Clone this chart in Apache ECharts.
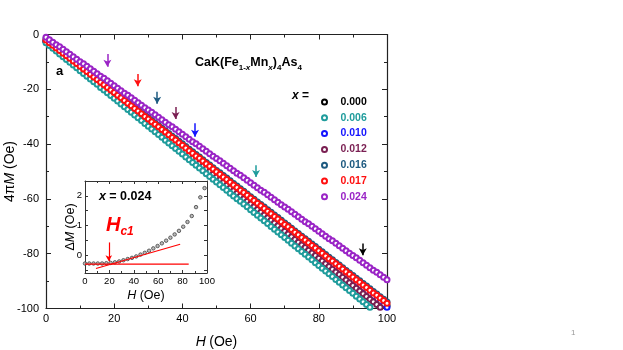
<!DOCTYPE html>
<html lang="en">
<head>
<meta charset="UTF-8">
<title>CaK(Fe1-xMnx)4As4 - 4πM vs H</title>
<style>html,body{margin:0;padding:0;background:#fff;}</style>
</head>
<body>
<div id="main" style="width:623px;height:350px;"></div>
<script src="https://cdn.jsdelivr.net/npm/echarts@6/dist/echarts.min.js"></script>
<script>
// applied field H (Oe), one point per Oe
var H = [0,1,2,3,4,5,6,7,8,9,10,11,12,13,14,15,16,17,18,19,20,21,22,23,24,25,26,27,28,29,30,31,32,33,34,35,36,37,38,39,40,41,42,43,44,45,46,47,48,49,50,51,52,53,54,55,56,57,58,59,60,61,62,63,64,65,66,67,68,69,70,71,72,73,74,75,76,77,78,79,80,81,82,83,84,85,86,87,88,89,90,91,92,93,94,95,96,97,98,99,100];

// 4piM (Oe)
var m000 = [-2.5,-3.5,-4.4,-5.4,-6.4,-7.3,-8.3,-9.3,-10.2,-11.2,-12.2,-13.1,-14.1,-15.0,-16.0,-17.0,-17.9,-18.9,-19.9,-20.8,-21.8,-22.8,-23.7,-24.7,-25.7,-26.6,-27.6,-28.6,-29.5,-30.5,-31.5,-32.4,-33.4,-34.3,-35.3,-36.3,-37.2,-38.2,-39.2,-40.1,-41.1,-42.1,-43.0,-44.0,-45.0,-45.9,-46.9,-47.9,-48.8,-49.8,-50.8,-51.7,-52.7,-53.6,-54.6,-55.6,-56.5,-57.5,-58.5,-59.4,-60.4,-61.4,-62.3,-63.3,-64.3,-65.2,-66.2,-67.2,-68.1,-69.1,-70.1,-71.0,-72.0,-72.9,-73.9,-74.9,-75.8,-76.8,-77.8,-78.7,-79.7,-80.7,-81.6,-82.6,-83.6,-84.5,-85.5,-86.5,-87.4,-88.4,-89.4,-90.3,-91.3,-92.2,-93.2,-94.2,-95.1,-96.1,-97.1,-98.0,-99.0];
var m006 = [-3.0,-4.0,-5.0,-6.0,-7.1,-8.1,-9.1,-10.1,-11.1,-12.1,-13.2,-14.2,-15.2,-16.2,-17.2,-18.2,-19.3,-20.3,-21.3,-22.3,-23.3,-24.3,-25.4,-26.4,-27.4,-28.4,-29.4,-30.4,-31.4,-32.5,-33.5,-34.5,-35.5,-36.5,-37.5,-38.6,-39.6,-40.6,-41.6,-42.6,-43.6,-44.7,-45.7,-46.7,-47.7,-48.7,-49.7,-50.8,-51.8,-52.8,-53.8,-54.8,-55.8,-56.8,-57.9,-58.9,-59.9,-60.9,-61.9,-62.9,-64.0,-65.0,-66.0,-67.0,-68.0,-69.0,-70.1,-71.1,-72.1,-73.1,-74.1,-75.1,-76.2,-77.2,-78.2,-79.2,-80.2,-81.2,-82.2,-83.3,-84.3,-85.3,-86.3,-87.3,-88.3,-89.4,-90.4,-91.4,-92.4,-93.4,-94.4,-95.5,-96.5,-97.5,-98.5,-99.5,-100.5,-101.6];
var m010 = [-2.5,-3.5,-4.4,-5.4,-6.4,-7.4,-8.3,-9.3,-10.3,-11.2,-12.2,-13.2,-14.1,-15.1,-16.1,-17.1,-18.0,-19.0,-20.0,-20.9,-21.9,-22.9,-23.8,-24.8,-25.8,-26.8,-27.7,-28.7,-29.7,-30.6,-31.6,-32.6,-33.5,-34.5,-35.5,-36.5,-37.4,-38.4,-39.4,-40.3,-41.3,-42.3,-43.2,-44.2,-45.2,-46.2,-47.1,-48.1,-49.1,-50.0,-51.0,-52.0,-52.9,-53.9,-54.9,-55.9,-56.8,-57.8,-58.8,-59.7,-60.7,-61.7,-62.6,-63.6,-64.6,-65.6,-66.5,-67.5,-68.5,-69.4,-70.4,-71.4,-72.3,-73.3,-74.3,-75.3,-76.2,-77.2,-78.2,-79.1,-80.1,-81.1,-82.0,-83.0,-84.0,-85.0,-85.9,-86.9,-87.9,-88.8,-89.8,-90.8,-91.7,-92.7,-93.7,-94.7,-95.6,-96.6,-97.6,-98.5,-99.5];
var m012 = [-2.5,-3.5,-4.5,-5.5,-6.5,-7.5,-8.4,-9.4,-10.4,-11.4,-12.4,-13.4,-14.4,-15.4,-16.4,-17.4,-18.3,-19.3,-20.3,-21.3,-22.3,-23.3,-24.3,-25.3,-26.3,-27.3,-28.2,-29.2,-30.2,-31.2,-32.2,-33.2,-34.2,-35.2,-36.2,-37.2,-38.1,-39.1,-40.1,-41.1,-42.1,-43.1,-44.1,-45.1,-46.1,-47.1,-48.0,-49.0,-50.0,-51.0,-52.0,-53.0,-54.0,-55.0,-56.0,-57.0,-57.9,-58.9,-59.9,-60.9,-61.9,-62.9,-63.9,-64.9,-65.9,-66.9,-67.8,-68.8,-69.8,-70.8,-71.8,-72.8,-73.8,-74.8,-75.8,-76.8,-77.7,-78.7,-79.7,-80.7,-81.7,-82.7,-83.7,-84.7,-85.7,-86.7,-87.6,-88.6,-89.6,-90.6,-91.6,-92.6,-93.6,-94.6,-95.6,-96.6,-97.5,-98.5,-99.5,-100.5,-101.5];
var m016 = [-1.5,-2.5,-3.4,-4.4,-5.3,-6.3,-7.3,-8.2,-9.2,-10.1,-11.1,-12.1,-13.0,-14.0,-15.0,-15.9,-16.9,-17.8,-18.8,-19.8,-20.7,-21.7,-22.6,-23.6,-24.6,-25.5,-26.5,-27.4,-28.4,-29.4,-30.3,-31.3,-32.3,-33.2,-34.2,-35.1,-36.1,-37.1,-38.0,-39.0,-39.9,-40.9,-41.9,-42.8,-43.8,-44.7,-45.7,-46.7,-47.6,-48.6,-49.6,-50.5,-51.5,-52.4,-53.4,-54.4,-55.3,-56.3,-57.2,-58.2,-59.2,-60.1,-61.1,-62.0,-63.0,-64.0,-64.9,-65.9,-66.8,-67.8,-68.8,-69.7,-70.7,-71.7,-72.6,-73.6,-74.5,-75.5,-76.5,-77.4,-78.4,-79.3,-80.3,-81.3,-82.2,-83.2,-84.1,-85.1,-86.1,-87.0,-88.0,-89.0,-89.9,-90.9,-91.8,-92.8,-93.8,-94.7,-95.7,-96.6,-97.6];
var m017 = [-2.0,-3.0,-3.9,-4.9,-5.8,-6.8,-7.8,-8.7,-9.7,-10.6,-11.6,-12.6,-13.5,-14.5,-15.5,-16.4,-17.4,-18.3,-19.3,-20.3,-21.2,-22.2,-23.1,-24.1,-25.1,-26.0,-27.0,-27.9,-28.9,-29.9,-30.8,-31.8,-32.8,-33.7,-34.7,-35.6,-36.6,-37.6,-38.5,-39.5,-40.4,-41.4,-42.4,-43.3,-44.3,-45.2,-46.2,-47.2,-48.1,-49.1,-50.1,-51.0,-52.0,-52.9,-53.9,-54.9,-55.8,-56.8,-57.7,-58.7,-59.7,-60.6,-61.6,-62.5,-63.5,-64.5,-65.4,-66.4,-67.3,-68.3,-69.3,-70.2,-71.2,-72.2,-73.1,-74.1,-75.0,-76.0,-77.0,-77.9,-78.9,-79.8,-80.8,-81.8,-82.7,-83.7,-84.6,-85.6,-86.6,-87.5,-88.5,-89.5,-90.4,-91.4,-92.3,-93.3,-94.3,-95.2,-96.2,-97.1,-98.1];
var m024 = [-1.0,-1.9,-2.8,-3.7,-4.5,-5.4,-6.3,-7.2,-8.1,-9.0,-9.9,-10.7,-11.6,-12.5,-13.4,-14.3,-15.2,-16.0,-16.9,-17.8,-18.7,-19.6,-20.5,-21.4,-22.2,-23.1,-24.0,-24.9,-25.8,-26.7,-27.6,-28.4,-29.3,-30.2,-31.1,-32.0,-32.9,-33.7,-34.6,-35.5,-36.4,-37.3,-38.2,-39.1,-39.9,-40.8,-41.7,-42.6,-43.5,-44.4,-45.3,-46.1,-47.0,-47.9,-48.8,-49.7,-50.6,-51.4,-52.3,-53.2,-54.1,-55.0,-55.9,-56.8,-57.6,-58.5,-59.4,-60.3,-61.2,-62.1,-63.0,-63.8,-64.7,-65.6,-66.5,-67.4,-68.3,-69.1,-70.0,-70.9,-71.8,-72.7,-73.6,-74.5,-75.3,-76.2,-77.1,-78.0,-78.9,-79.8,-80.7,-81.5,-82.4,-83.3,-84.2,-85.1,-86.0,-86.8,-87.7,-88.6,-89.5];

// Hc1 arrows: field, arrow top, arrow tip (Oe)
var arrowH   = {'0.000': 92.9, '0.006': 61.6, '0.010': 43.7, '0.012': 38.0, '0.016': 32.6, '0.017': 26.9, '0.024': 18.0};
var arrowTop = {'0.000': -76.3, '0.006': -47.7, '0.010': -32.4, '0.012': -26.5, '0.016': -20.9, '0.017': -14.4, '0.024': -7.1};
var arrowTip = {'0.000': -80.6, '0.006': -52.0, '0.010': -37.3, '0.012': -30.8, '0.016': -25.3, '0.017': -18.9, '0.024': -11.8};

// inset: deltaM for x = 0.024
var insetH  = [0,3.5,7,10.5,14,17.5,21,24.5,28,31.5,35,38.5,42,45.5,49,52.5,56,59.5,63,66.5,70,73.5,77,80.5,84,87.5,91,94.5,98];
var insetDM = [-0.28,-0.28,-0.28,-0.28,-0.28,-0.27,-0.26,-0.24,-0.21,-0.17,-0.13,-0.09,-0.04,0.02,0.08,0.15,0.23,0.31,0.40,0.49,0.59,0.70,0.82,0.96,1.12,1.32,1.62,1.95,2.26];
var flatLine    = [[0, -0.3], [85, -0.3]];
var tangentLine = [[9, -0.45], [78, 0.37]];
var insetArrow  = [19.5, 0.43, -0.2];

var legendNames = ['0.000', '0.006', '0.010', '0.012', '0.016', '0.017', '0.024'];
var colors = {
    '0.000': '#000000', '0.006': '#1f9c9c', '0.010': '#1414ff', '0.012': '#7a1f52',
    '0.016': '#1d5a80', '0.017': '#ff1010', '0.024': '#9a24c6'
};

var FONT = 'Liberation Sans, Arial, sans-serif';

function pairs(xs, ys) {
    var out = [];
    for (var i = 0; i < ys.length; i++) out.push([xs[i], ys[i]]);
    return out;
}

function dots(name, vals) {
    var c = colors[name];
    return {
        name: name,
        type: 'scatter',
        xAxisIndex: 0,
        yAxisIndex: 0,
        data: pairs(H, vals),
        symbol: 'circle',
        symbolSize: 5,
        clip: true,
        silent: true,
        itemStyle: {color: '#fff', borderColor: c, borderWidth: 2, opacity: 1},
        markLine: {
            silent: true,
            symbol: ['none', 'arrow'],
            symbolSize: [6, 7],
            label: {show: false},
            lineStyle: {color: c, width: 1.5, type: 'solid'},
            data: [[{coord: [arrowH[name], arrowTop[name]]}, {coord: [arrowH[name], arrowTip[name]]}]]
        }
    };
}

function frameAxis(extra) {
    var base = {
        type: 'value',
        splitLine: {show: false},
        nameMoveOverlap: false,
        axisLine: {show: true, onZero: false, lineStyle: {color: '#222', width: 1.2}},
        axisTick: {show: true, inside: true, length: 5, lineStyle: {color: '#222'}},
        minorTick: {show: true, splitNumber: 2, length: 3, lineStyle: {color: '#222'}},
        axisLabel: {color: '#000', fontSize: 11, fontFamily: FONT}
    };
    for (var k in extra) base[k] = extra[k];
    return base;
}

var chart = echarts.init(document.getElementById('main'));

var option = {
    animation: false,
    backgroundColor: '#fff',
    grid: [
        {left: 46, right: 236, top: 34.5, bottom: 41.5, outerBoundsMode: 'none', containLabel: false},
        {left: 85, right: 416, top: 181, bottom: 77, outerBoundsMode: 'none', containLabel: false,
         show: true, backgroundColor: '#fff', borderWidth: 0}
    ],
    legend: {
        orient: 'vertical',
        left: 316,
        top: 91.5,
        itemWidth: 22,
        itemHeight: 5,
        itemGap: 4.8,
        icon: 'circle',
        selectedMode: false,
        textStyle: {fontSize: 10.5, fontWeight: 'bold', fontFamily: FONT, lineHeight: 11},
        data: legendNames.map(function (n) { return {name: n, textStyle: {color: colors[n]}}; })
    },
    xAxis: [
        frameAxis({gridIndex: 0, min: 0, max: 100, interval: 20, position: 'bottom',
            axisLabel: {color: '#000', fontSize: 11, fontFamily: FONT, margin: 5},
            name: '{i|H} {n|(Oe)}', nameLocation: 'middle', nameGap: 27,
            nameTextStyle: {rich: {i: {fontStyle: 'italic', fontSize: 14, fontFamily: FONT, color: '#000'},
                                   n: {fontSize: 14, fontFamily: FONT, color: '#000'}}}}),
        frameAxis({gridIndex: 0, min: 0, max: 100, interval: 20, position: 'top', axisLabel: {show: false}}),
        frameAxis({gridIndex: 1, min: 0, max: 100, interval: 20, position: 'bottom',
            axisLine: {show: true, onZero: false, lineStyle: {color: '#333', width: 1}},
            axisTick: {show: true, inside: true, length: 3, lineStyle: {color: '#333'}},
            minorTick: {show: true, splitNumber: 2, length: 2, lineStyle: {color: '#333'}},
            axisLabel: {color: '#000', fontSize: 9.5, fontFamily: FONT, margin: 3},
            name: '{i|H} {n|(Oe)}', nameLocation: 'middle', nameGap: 16,
            nameTextStyle: {rich: {i: {fontStyle: 'italic', fontSize: 12.5, fontFamily: FONT, color: '#000'},
                                   n: {fontSize: 12.5, fontFamily: FONT, color: '#000'}}}}),
        frameAxis({gridIndex: 1, min: 0, max: 100, interval: 20, position: 'top',
            axisLine: {show: true, onZero: false, lineStyle: {color: '#333', width: 1}},
            axisTick: {show: true, inside: true, length: 3, lineStyle: {color: '#333'}},
            minorTick: {show: true, splitNumber: 2, length: 2, lineStyle: {color: '#333'}},
            axisLabel: {show: false}})
    ],
    yAxis: [
        frameAxis({gridIndex: 0, min: -100, max: 0, interval: 20, position: 'left',
            axisLabel: {color: '#000', fontSize: 11, fontFamily: FONT, margin: 7},
            name: '{n|4π}{i|M}{n| (Oe)}', nameLocation: 'middle', nameGap: 29, nameRotate: 90,
            nameTextStyle: {rich: {i: {fontStyle: 'italic', fontSize: 14, fontFamily: FONT, color: '#000'},
                                   n: {fontSize: 14, fontFamily: FONT, color: '#000'}}}}),
        frameAxis({gridIndex: 0, min: -100, max: 0, interval: 20, position: 'right', axisLabel: {show: false}}),
        frameAxis({gridIndex: 1, min: -0.6, max: 2.5, position: 'left',
            axisLine: {show: true, onZero: false, lineStyle: {color: '#333', width: 1}},
            axisTick: {show: true, inside: true, length: 3, customValues: [-0.5, 0, 0.5, 1, 1.5, 2], lineStyle: {color: '#333'}},
            minorTick: {show: false},
            axisLabel: {color: '#000', fontSize: 9.5, fontFamily: FONT, margin: 3, customValues: [0, 1, 2]},
            name: '{n|Δ}{i|M}{n| (Oe)}', nameLocation: 'middle', nameGap: 8, nameRotate: 90,
            nameTextStyle: {rich: {i: {fontStyle: 'italic', fontSize: 12.5, fontFamily: FONT, color: '#000'},
                                   n: {fontSize: 12.5, fontFamily: FONT, color: '#000'}}}}),
        frameAxis({gridIndex: 1, min: -0.6, max: 2.5, position: 'right',
            axisLine: {show: true, onZero: false, lineStyle: {color: '#333', width: 1}},
            axisTick: {show: true, inside: true, length: 3, customValues: [-0.5, 0, 0.5, 1, 1.5, 2], lineStyle: {color: '#333'}},
            minorTick: {show: false},
            axisLabel: {show: false}})
    ],
    series: [
        dots('0.000', m000),
        dots('0.010', m010),
        dots('0.012', m012),
        dots('0.006', m006),
        dots('0.016', m016),
        dots('0.017', m017),
        dots('0.024', m024),
        {
            type: 'scatter', xAxisIndex: 2, yAxisIndex: 2, silent: true,
            data: pairs(insetH, insetDM), symbol: 'circle', symbolSize: 3.5,
            itemStyle: {color: '#aaa', borderColor: '#444', borderWidth: 1}
        },
        {
            type: 'line', xAxisIndex: 2, yAxisIndex: 2, silent: true, symbol: 'none',
            data: flatLine, lineStyle: {color: '#ff0000', width: 1.2},
            markLine: {
                silent: true, symbol: ['none', 'arrow'], symbolSize: [5, 6], label: {show: false},
                lineStyle: {color: '#ff0000', width: 1.2, type: 'solid'},
                data: [[{coord: [insetArrow[0], insetArrow[1]]}, {coord: [insetArrow[0], insetArrow[2]]}]]
            }
        },
        {
            type: 'line', xAxisIndex: 2, yAxisIndex: 2, silent: true, symbol: 'none',
            data: tangentLine, lineStyle: {color: '#ff0000', width: 1.2}
        }
    ],
    graphic: [
        {type: 'text', left: 56, top: 65, style: {text: 'a', fontSize: 13, fontWeight: 'bold', fontFamily: FONT, fill: '#000'}},
        {type: 'text', left: 195, top: 56, style: {
            text: '{b|CaK(Fe}{s|1-}{si|x}{b|Mn}{si|x}{b|)}{s|4}{b|As}{s|4}',
            rich: {
                b: {fontSize: 12.5, fontWeight: 'bold', fontFamily: FONT, fill: '#000', lineHeight: 18},
                s: {fontSize: 8, fontWeight: 'bold', fontFamily: FONT, fill: '#000', lineHeight: 9, verticalAlign: 'bottom'},
                si: {fontSize: 8, fontWeight: 'bold', fontStyle: 'italic', fontFamily: FONT, fill: '#000', lineHeight: 9, verticalAlign: 'bottom'}
            }
        }},
        {type: 'text', left: 292, top: 90, style: {
            text: '{i|x} {b|=}',
            rich: {
                i: {fontSize: 12, fontWeight: 'bold', fontStyle: 'italic', fontFamily: FONT, fill: '#000'},
                b: {fontSize: 12, fontWeight: 'bold', fontFamily: FONT, fill: '#000'}
            }
        }},
        {type: 'text', left: 99, top: 190, z: 10, style: {
            text: '{i|x} {b|= 0.024}',
            rich: {
                i: {fontSize: 12.5, fontWeight: 'bold', fontStyle: 'italic', fontFamily: FONT, fill: '#000'},
                b: {fontSize: 12.5, fontWeight: 'bold', fontFamily: FONT, fill: '#000'}
            }
        }},
        {type: 'text', left: 106, top: 215, z: 10, style: {
            text: '{h|H}{c|c1}',
            rich: {
                h: {fontSize: 20, fontWeight: 'bold', fontStyle: 'italic', fontFamily: FONT, fill: '#ff0000', lineHeight: 26},
                c: {fontSize: 12, fontWeight: 'bold', fontStyle: 'italic', fontFamily: FONT, fill: '#ff0000', lineHeight: 8, verticalAlign: 'bottom'}
            }
        }},
        {type: 'text', left: 571, top: 329, style: {text: '1', fontSize: 8, fontFamily: FONT, fill: '#999'}}
    ]
};

chart.setOption(option);
</script>
</body>
</html>
